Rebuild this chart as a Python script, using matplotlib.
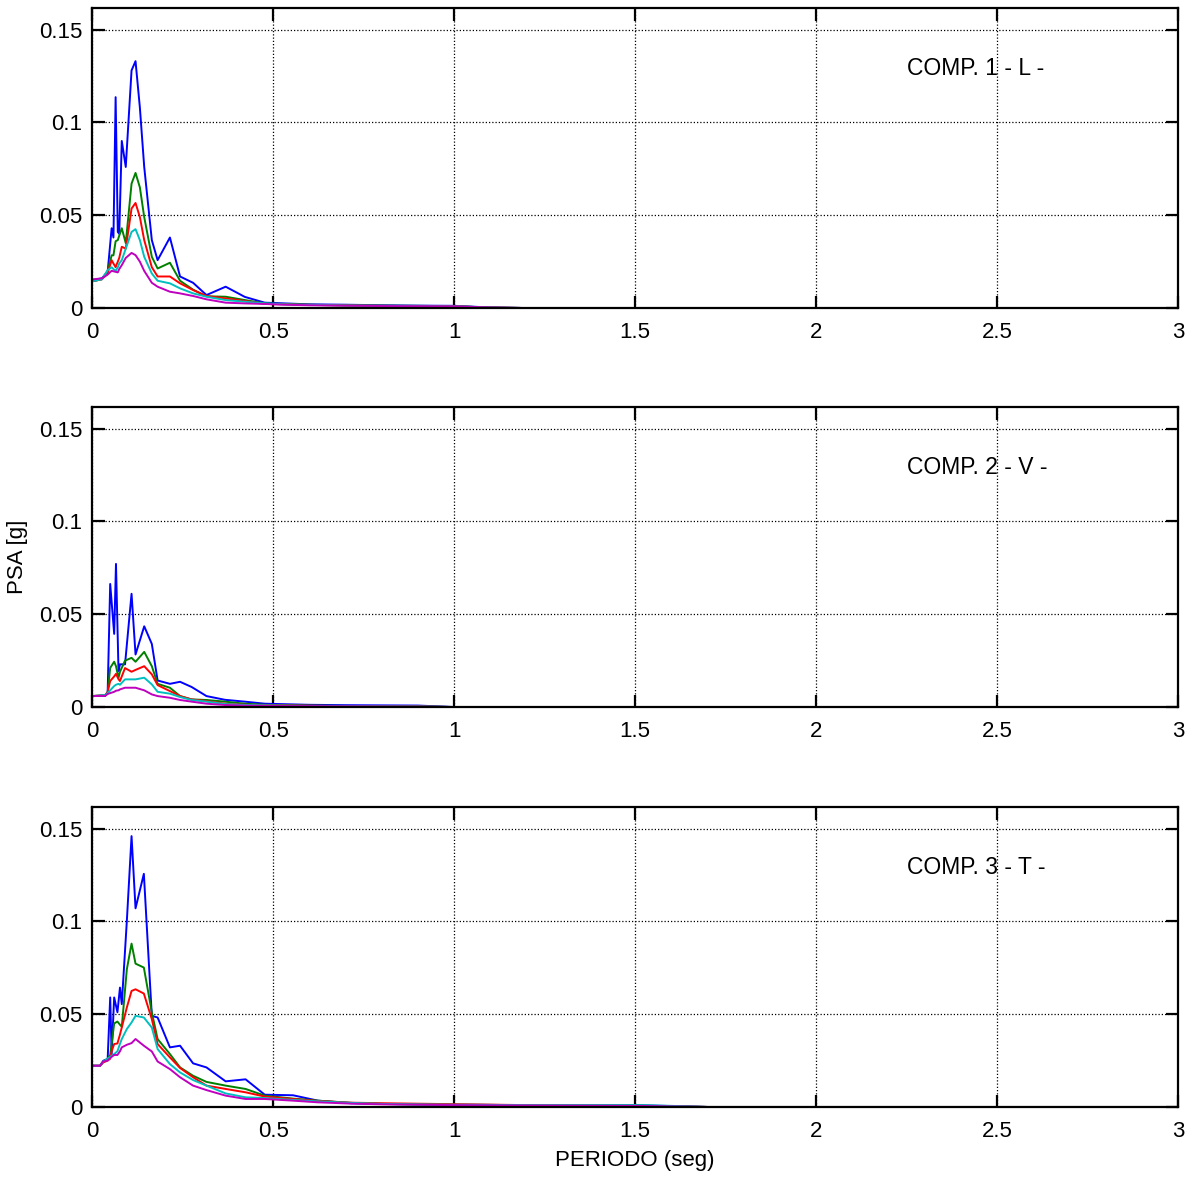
import matplotlib
matplotlib.use("Agg")
import matplotlib.pyplot as plt
import numpy as np

plt.rcParams['font.family'] = ['Liberation Sans', 'DejaVu Sans']

# --- COMP. 1 - L -
T1 = [0.0, 0.027, 0.043, 0.054, 0.059, 0.065, 0.071, 0.075, 0.082, 0.093, 0.109, 0.120,
      0.132, 0.144, 0.165, 0.181, 0.215, 0.243, 0.279, 0.316, 0.369, 0.422, 0.477, 0.532,
      0.6, 0.7, 0.8, 0.9, 1.0, 1.1, 1.2, 3.0]
blue1 = [0.015, 0.016, 0.0195, 0.043, 0.038, 0.1136, 0.041, 0.040, 0.090, 0.076, 0.128, 0.133,
         0.108, 0.076, 0.0366, 0.0258, 0.038, 0.017, 0.0136, 0.007, 0.0115, 0.006, 0.0029, 0.0025,
         0.002, 0.0018, 0.0015, 0.0013, 0.0012, 0.0003, 0, 0]
green1 = [0.0144, 0.0155, 0.020, 0.0284, 0.0284, 0.036, 0.0366, 0.039, 0.043, 0.035, 0.067, 0.0728,
          0.065, 0.049, 0.0276, 0.0213, 0.0244, 0.0147, 0.0099, 0.0063, 0.0061, 0.0043, 0.0025, 0.0022,
          0.0018, 0.0015, 0.0013, 0.0012, 0.001, 0.0003, 0, 0]
red1 = [0.0144, 0.0155, 0.0188, 0.0258, 0.024, 0.022, 0.025, 0.027, 0.033, 0.032, 0.0536, 0.0566,
        0.049, 0.0366, 0.022, 0.017, 0.017, 0.0133, 0.0097, 0.0065, 0.0052, 0.0038, 0.0022, 0.002,
        0.0017, 0.0014, 0.0012, 0.001, 0.0009, 0.0003, 0, 0]
cyan1 = [0.0144, 0.0155, 0.0204, 0.022, 0.021, 0.020, 0.022, 0.024, 0.0258, 0.032, 0.041, 0.0425,
         0.0366, 0.0276, 0.0186, 0.0147, 0.0133, 0.0106, 0.0079, 0.0061, 0.0043, 0.0034, 0.0025, 0.002,
         0.0017, 0.0014, 0.0012, 0.001, 0.0009, 0.0003, 0, 0]
mag1 = [0.0154, 0.016, 0.018, 0.0201, 0.0198, 0.0195, 0.0192, 0.021, 0.0231, 0.027, 0.0297, 0.0285,
        0.025, 0.020, 0.0136, 0.0115, 0.0088, 0.0079, 0.0065, 0.0047, 0.0029, 0.0025, 0.0022, 0.0018,
        0.0015, 0.0013, 0.0011, 0.001, 0.0009, 0.0003, 0, 0]

# --- COMP. 2 - V -
T2 = [0.0, 0.036, 0.043, 0.050, 0.061, 0.066, 0.073, 0.077, 0.091, 0.109, 0.120, 0.144, 0.165,
      0.181, 0.215, 0.243, 0.275, 0.316, 0.367, 0.422, 0.477, 0.6, 0.7, 0.8, 0.9, 1.0, 3.0]
blue2 = [0.0059, 0.006, 0.0077, 0.0663, 0.0394, 0.0771, 0.0194, 0.023, 0.023, 0.061, 0.0283, 0.0435,
         0.034, 0.0143, 0.0125, 0.0136, 0.0108, 0.0059, 0.0039, 0.0029, 0.0018, 0.0012, 0.001, 0.0009,
         0.0008, 0, 0]
green2 = [0.0059, 0.0062, 0.008, 0.0211, 0.0244, 0.022, 0.0158, 0.019, 0.025, 0.0265, 0.0244, 0.0297,
          0.022, 0.0125, 0.0104, 0.0059, 0.0041, 0.0038, 0.0029, 0.0018, 0.0012, 0.0008, 0.0006, 0.0005,
          0.0004, 0, 0]
red2 = [0.0059, 0.0065, 0.008, 0.014, 0.0165, 0.0179, 0.015, 0.014, 0.021, 0.019, 0.020, 0.022,
        0.0176, 0.0118, 0.0086, 0.0059, 0.0041, 0.0032, 0.0018, 0.0012, 0.001, 0.0007, 0.0005, 0.0004,
        0.0003, 0, 0]
cyan2 = [0.0059, 0.0065, 0.0075, 0.009, 0.0113, 0.012, 0.0125, 0.012, 0.0149, 0.0149, 0.0149, 0.0158,
         0.0122, 0.0082, 0.0072, 0.0054, 0.0038, 0.0029, 0.0016, 0.0011, 0.0009, 0.0006, 0.0005, 0.0004,
         0.0003, 0, 0]
mag2 = [0.0059, 0.006, 0.007, 0.0075, 0.0082, 0.0088, 0.009, 0.0095, 0.0104, 0.0104, 0.0104, 0.009,
        0.0068, 0.0059, 0.005, 0.0038, 0.0029, 0.0018, 0.0011, 0.0008, 0.0006, 0.0005, 0.0004, 0.0003,
        0.0002, 0, 0]

# --- COMP. 3 - T -
T3 = [0.0, 0.022, 0.031, 0.043, 0.050, 0.054, 0.061, 0.070, 0.077, 0.082, 0.096, 0.109, 0.120,
      0.143, 0.165, 0.181, 0.215, 0.243, 0.279, 0.316, 0.369, 0.424, 0.477, 0.555, 0.624, 0.716,
      0.808, 1.0, 1.2, 1.5, 1.6, 1.7, 3.0]
blue3 = [0.0222, 0.0222, 0.0249, 0.0258, 0.059, 0.0285, 0.059, 0.051, 0.0643, 0.0554, 0.1002, 0.1459,
         0.107, 0.1256, 0.0491, 0.0482, 0.0321, 0.033, 0.0235, 0.0213, 0.0138, 0.0149, 0.0066, 0.0063,
         0.0034, 0.002, 0.0016, 0.0012, 0.001, 0.001, 0.0005, 0, 0]
green3 = [0.0222, 0.0222, 0.0245, 0.026, 0.028, 0.034, 0.045, 0.046, 0.0443, 0.0432, 0.0742, 0.088,
          0.0772, 0.0751, 0.0509, 0.0366, 0.0285, 0.0213, 0.0168, 0.0135, 0.0115, 0.0097, 0.0061, 0.0045,
          0.0034, 0.0022, 0.0016, 0.0012, 0.001, 0.0008, 0.0004, 0, 0]
red3 = [0.0222, 0.0222, 0.024, 0.025, 0.026, 0.030, 0.0339, 0.0342, 0.039, 0.0428, 0.0536, 0.0625,
        0.0634, 0.0611, 0.0473, 0.0339, 0.0267, 0.021, 0.016, 0.0115, 0.0097, 0.0079, 0.0056, 0.0043,
        0.0032, 0.0023, 0.002, 0.0015, 0.001, 0.0006, 0.0004, 0, 0]
cyan3 = [0.0222, 0.0222, 0.0245, 0.026, 0.027, 0.0276, 0.0285, 0.030, 0.034, 0.0366, 0.042, 0.0455,
         0.0491, 0.0482, 0.0428, 0.0312, 0.0231, 0.0186, 0.0145, 0.0115, 0.0073, 0.0052, 0.0048, 0.0038,
         0.003, 0.0022, 0.0016, 0.0012, 0.001, 0.001, 0.0006, 0, 0]
mag3 = [0.0222, 0.0222, 0.0245, 0.025, 0.0263, 0.027, 0.028, 0.028, 0.030, 0.0321, 0.0335, 0.0344,
        0.0366, 0.033, 0.0299, 0.0245, 0.0204, 0.016, 0.0115, 0.0091, 0.0061, 0.0043, 0.0043, 0.0034,
        0.0025, 0.0018, 0.0014, 0.001, 0.0008, 0.0006, 0.0003, 0, 0]

panels = [
    ("COMP. 1 - L -", T1, [blue1, green1, red1, cyan1, mag1]),
    ("COMP. 2 - V -", T2, [blue2, green2, red2, cyan2, mag2]),
    ("COMP. 3 - T -", T3, [blue3, green3, red3, cyan3, mag3]),
]
colors = ['#0000ff', '#008000', '#ff0000', '#00bfbf', '#bf00bf']

xticks = [0, 0.5, 1, 1.5, 2, 2.5, 3]
xticklabels = ['0', '0.5', '1', '1.5', '2', '2.5', '3']
yticks = [0, 0.05, 0.1, 0.15]
yticklabels = ['0', '0.05', '0.1', '0.15']

fig = plt.figure(figsize=(11.96, 11.78), dpi=100)
bottoms = [0.7385, 0.3998, 0.0603]
left, width, height = 0.077, 0.908, 0.2545

for i, (name, T, series) in enumerate(panels):
    ax = fig.add_axes([left, bottoms[i], width, height])
    for y, c in zip(series, colors):
        ax.plot(T, y, color=c, linewidth=1.4)
    ax.set_xlim(0, 3)
    ax.set_ylim(0, 0.1615)
    ax.set_xticks(xticks)
    ax.set_xticklabels(xticklabels)
    ax.set_yticks(yticks)
    ax.set_yticklabels(yticklabels)
    ax.grid(True, color='black', linestyle=(0, (1, 1.6)), linewidth=0.9)
    ax.tick_params(direction='in', length=9, width=1.6, top=True, right=True,
                   labelsize=16)
    ax.tick_params(axis='x', pad=10)
    ax.tick_params(axis='y', pad=7)
    for s in ax.spines.values():
        s.set_linewidth(1.6)
    ax.text(2.25, 0.129, name, fontsize=16.5, ha='left', va='center')
    if i == 1:
        ax.set_ylabel('PSA [g]', fontsize=16, labelpad=8)
    if i == 2:
        ax.set_xlabel('PERIODO (seg)', fontsize=16, labelpad=6)

fig.savefig('out.png', dpi=100)
